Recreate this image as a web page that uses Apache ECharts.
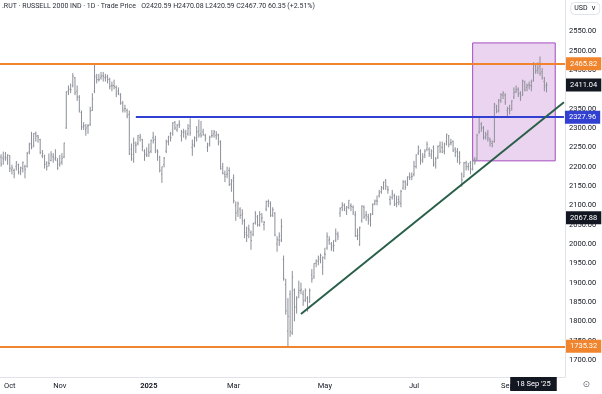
<!DOCTYPE html>
<html>
<head>
<meta charset="utf-8">
<script src="https://cdn.jsdelivr.net/npm/echarts@6/dist/echarts.min.js"></script>
<style>
html,body{margin:0;padding:0;background:#fff;}
#chart{width:602px;height:394px;}
</style>
</head>
<body>
<div id="chart"></div>
<script>
// Trading days shown on the category axis (last ones are empty future slots)
const tradingDays = [
  ['2024-09', [25,26,27,30]],
  ['2024-10', [1,2,3,4,7,8,9,10,11,14,15,16,17,18,21,22,23,24,25,28,29,30,31]],
  ['2024-11', [1,4,5,6,7,8,11,12,13,14,15,18,19,20,21,22,25,26,27,29]],
  ['2024-12', [2,3,4,5,6,9,10,11,12,13,16,17,18,19,20,23,24,26,27,30,31]],
  ['2025-01', [2,3,6,7,8,10,13,14,15,16,17,21,22,23,24,27,28,29,30,31]],
  ['2025-02', [3,4,5,6,7,10,11,12,13,14,18,19,20,21,24,25,26,27,28]],
  ['2025-03', [3,4,5,6,7,10,11,12,13,14,17,18,19,20,21,24,25,26,27,28,31]],
  ['2025-04', [1,2,3,4,7,8,9,10,11,14,15,16,17,21,22,23,24,25,28,29,30]],
  ['2025-05', [1,2,5,6,7,8,9,12,13,14,15,16,19,20,21,22,23,27,28,29,30]],
  ['2025-06', [2,3,4,5,6,9,10,11,12,13,16,17,18,20,23,24,25,26,27,30]],
  ['2025-07', [1,2,3,7,8,9,10,11,14,15,16,17,18,21,22,23,24,25,28,29,30,31]],
  ['2025-08', [1,4,5,6,7,8,11,12,13,14,15,18,19,20,21,22,25,26,27,28,29]],
  ['2025-09', [2,3,4,5,8,9,10,11,12,15,16,17,18,19,22,23,24,25,26,29,30]],
  ['2025-10', [1,2,3,6,7,8]]
];

// Daily OHLC (Sep 25 2024 .. Sep 26 2025)
const open = [
  2225,2222,2225,2220,
  2228,2192,2190,2200,2205,2188,2195,2200,2200,2238,2260,2255,2285,2280,2270,2228,2228,2210,2210,2216,2226,2220,2215,
  2205,2212,2225,2300,2395,2400,2410,2430,2395,2380,2340,2303,2295,2305,2310,2345,2395,2430,2425,2430,
  2435,2430,2432,2425,2410,2410,2405,2395,2385,2365,2350,2345,2335,2245,2220,2255,2260,2275,2270,2240,2235,
  2240,2240,2275,2270,2240,2225,2180,2205,2240,2265,2285,2285,2315,2295,2310,2280,2290,2285,2285,2305,
  2250,2255,2272,2292,2285,2290,2280,2250,2260,2280,2285,2280,2282,2265,2200,2180,2180,2190,2155,
  2170,2100,2085,2090,2075,2060,2030,2040,2030,2025,2055,2070,2050,2065,2050,2090,2110,2105,2075,2080,2000,
  2010,2010,1960,1895,1775,1870,1770,1880,1835,1875,1880,1870,1855,1860,1850,1920,1915,1950,1955,1960,1940,
  1975,1990,2010,2000,1995,2010,2025,2080,2095,2100,2085,2095,2100,2095,2075,2020,2000,2060,2095,2075,2070,
  2060,2078,2105,2112,2125,2135,2145,2165,2140,2115,2120,2125,2105,2115,2105,2145,2160,2155,2175,2175,
  2180,2200,2235,2240,2218,2230,2245,2245,2230,2250,2210,2225,2255,2250,2240,2265,2280,2262,2265,2245,2240,2235,
  2180,2175,2210,2200,2210,2195,2218,2220,2290,2310,2300,2275,2285,2270,2260,2265,2355,2345,2370,2385,2385,
  2345,2350,2350,2380,2395,2400,2390,2385,2420,2405,2412,2410,2420.59,2460,2450,2460,2445,2420,2410
];
const high = [
  2232,2239,2238,2232,
  2230,2205,2195,2214,2208,2200,2213,2205,2238,2262,2290,2287,2291,2282,2272,2243,2231,2214,2234,2240,2235,2245,2222,
  2230,2235,2262,2395,2410,2415,2442,2432,2410,2385,2345,2315,2310,2310,2355,2390,2466,2440,2440,2445,
  2445,2440,2438,2430,2420,2425,2410,2405,2390,2370,2360,2350,2345,2260,2275,2265,2282,2285,2272,2245,2250,
  2260,2270,2290,2280,2245,2228,2200,2225,2270,2280,2290,2315,2318,2310,2320,2295,2298,2295,2310,2325,
  2270,2278,2305,2322,2318,2298,2285,2262,2280,2295,2295,2292,2285,2268,2210,2190,2200,2198,2168,
  2180,2110,2110,2095,2090,2065,2045,2050,2035,2055,2085,2075,2085,2080,2060,2112,2115,2110,2095,2082,2020,
  2030,2065,1970,1910,1860,1880,1930,1885,1865,1905,1900,1880,1885,1865,1885,1935,1950,1960,1970,1975,1968,
  1990,2030,2020,2005,2010,2040,2032,2095,2108,2105,2098,2113,2105,2100,2085,2040,2045,2100,2100,2085,2078,
  2080,2105,2115,2125,2140,2150,2162,2168,2150,2125,2140,2130,2125,2125,2140,2165,2165,2175,2185,2185,
  2215,2232,2255,2245,2235,2245,2265,2250,2245,2255,2225,2255,2265,2265,2262,2285,2282,2272,2268,2250,2248,2240,
  2185,2212,2215,2210,2215,2220,2225,2285,2330,2315,2305,2290,2295,2275,2268,2365,2360,2375,2390,2395,2390,
  2355,2360,2372,2405,2410,2405,2395,2425,2422,2415,2420,2425,2470.08,2465,2470,2485,2455,2432,2418
];
const low = [
  2200,2205,2215,2205,
  2186,2180,2170,2190,2180,2178,2185,2170,2198,2232,2245,2250,2265,2262,2232,2222,2195,2190,2200,2214,2210,2215,2192,
  2200,2205,2222,2298,2385,2390,2405,2385,2370,2340,2295,2295,2280,2285,2305,2344,2390,2415,2420,2425,
  2420,2420,2415,2400,2395,2400,2380,2385,2360,2340,2340,2325,2230,2215,2210,2235,2255,2265,2240,2215,2225,
  2225,2235,2260,2235,2215,2185,2158,2198,2235,2255,2265,2280,2295,2290,2300,2265,2275,2270,2280,2280,
  2228,2250,2265,2275,2275,2280,2265,2238,2252,2275,2275,2270,2255,2192,2180,2160,2170,2150,2135,
  2105,2060,2070,2065,2050,2015,2005,2015,1985,2020,2050,2045,2045,2055,2035,2085,2095,2070,2070,2020,1980,
  1995,2005,1905,1817,1736,1760,1765,1800,1820,1860,1870,1840,1850,1825,1848,1900,1910,1940,1945,1950,1920,
  1960,1985,1998,1982,1980,2005,2010,2070,2085,2085,2075,2090,2085,2075,2018,2010,1995,2055,2065,2060,2050,
  2045,2075,2100,2100,2120,2130,2140,2140,2130,2100,2115,2098,2095,2100,2095,2140,2140,2150,2165,2165,
  2175,2195,2230,2205,2210,2222,2240,2225,2220,2200,2195,2220,2235,2235,2232,2255,2250,2255,2238,2225,2210,2205,
  2148,2172,2190,2190,2180,2190,2205,2215,2285,2290,2270,2270,2265,2252,2250,2262,2338,2340,2365,2375,2360,
  2330,2335,2345,2375,2390,2380,2370,2383,2395,2395,2400,2395,2420.59,2440,2440,2435,2425,2395,2392
];
const close = [
  2207,2219,2224,2230,
  2196,2197,2181,2212,2184,2197,2211,2193,2234,2257,2250,2286,2279,2276,2237,2234,2206,2200,2208,2231,2224,2223,2196,
  2209,2222,2261,2393,2400,2399,2434,2391,2380,2346,2303,2306,2300,2306,2344,2375,2434,2425,2425,2434,
  2434,2432,2426,2408,2409,2407,2389,2389,2364,2346,2350,2331,2233,2231,2261,2256,2280,2279,2253,2231,2230,
  2236,2268,2267,2243,2238,2190,2200,2222,2264,2277,2275,2313,2300,2307,2307,2288,2290,2277,2299,2287,
  2258,2275,2290,2282,2280,2283,2273,2256,2276,2280,2290,2285,2262,2195,2183,2175,2181,2154,2163,
  2112,2080,2104,2074,2080,2025,2022,2036,2009,2053,2078,2049,2076,2068,2056,2110,2110,2073,2089,2023,2011,
  2020,2045,1910,1827,1813,1773,1914,1838,1860,1880,1883,1853,1880,1838,1880,1910,1950,1957,1964,1970,1965,
  1973,2020,2012,1990,1996,2026,2020,2092,2101,2091,2095,2113,2097,2081,2022,2022,2042,2098,2070,2075,2066,
  2075,2102,2111,2110,2132,2145,2160,2150,2140,2106,2131,2102,2107,2109,2136,2161,2147,2173,2172,2175,
  2201,2230,2250,2215,2225,2240,2258,2234,2240,2205,2220,2252,2240,2237,2259,2284,2258,2262,2241,2237,2226,2211,
  2166,2210,2200,2200,2193,2218,2212,2281,2328,2300,2277,2282,2275,2265,2254,2361,2343,2372,2386,2390,2366,
  2350,2345,2370,2392,2400,2387,2380,2422,2398,2410,2409,2407.35,2467.70,2448,2455,2441,2430,2406,2411.04
];

// Price-axis tick labels
const yTicks = [1700,1750,1800,1850,1900,1950,2000,2050,2100,2150,2200,2250,2300,2350,2400,2450,2500,2550];
// Time-axis labels
const xTickLabels = {'2024-10-01':'Oct','2024-11-01':'Nov','2025-01-02':'2025','2025-03-03':'Mar','2025-05-01':'May','2025-07-01':'Jul','2025-09-02':'Sep'};

// Drawing levels (x given as trading-day index on the category axis)
const resistanceLevel = 2465.82;
const supportLevel = 1735.32;
const pivotLevel = 2327.96;
const pivotStartIndex = 62;
const markerLevel = 2067.88;
const trendStart = [138, 1819];
const trendEnd = [259, 2366.5];
const boxX = [217.2, 255.4];
const boxY = [2215, 2520];
const crosshairDate = '2025-09-18';

const dates = [];
tradingDays.forEach(([m, ds]) => ds.forEach(d => dates.push(m + '-' + String(d).padStart(2, '0'))));

const ohlc = close.map((c, i) => [i, open[i], high[i], low[i], c]);
const FONT = 'Roboto, "Liberation Sans", sans-serif';
const TXT = '#131722';
const ORANGE = '#f0852d';
const BLUE = '#3140d0';
const GREEN = '#2a6049';
const BAR = '#8c8f98';
const CLEAR = 'rgba(0,0,0,0)';
const MONTHS = ['Jan','Feb','Mar','Apr','May','Jun','Jul','Aug','Sep','Oct','Nov','Dec'];

const ci = dates.indexOf(crosshairDate);
const prevC = close[ci - 1];
const chg = close[ci] - prevC;
const titleText = '.RUT \u00b7 RUSSELL 2000 IND \u00b7 1D \u00b7 Trade Price   O' + open[ci].toFixed(2) +
  ' H' + high[ci].toFixed(2) + ' L' + low[ci].toFixed(2) + ' C' + close[ci].toFixed(2) +
  ' ' + chg.toFixed(2) + ' (+' + (chg / prevC * 100).toFixed(2) + '%)';

function priceLabel(bg, level) {
  return {
    show: true, position: 'end', distance: 1,
    formatter: () => level.toFixed(2),
    backgroundColor: bg, color: '#fff', padding: [2, 4],
    fontSize: 7.5, lineHeight: 9, fontFamily: FONT
  };
}

const lastClose = close[close.length - 1];

const chart = echarts.init(document.getElementById('chart'), null, {renderer: 'canvas'});
chart.setOption({
  animation: false,
  backgroundColor: '#ffffff',
  title: [
    {text: titleText, left: 2, top: 3, padding: 0,
     textStyle: {fontSize: 7, fontWeight: 'normal', color: '#2a2e39', fontFamily: FONT}},
    {text: 'USD  \u2228', right: 2, top: 2, padding: [3, 4], borderColor: '#e0e3eb', borderWidth: 1, borderRadius: 4,
     textStyle: {fontSize: 7, fontWeight: 'normal', color: TXT, fontFamily: FONT}},
    {text: '\u2299', right: 12, top: 380, padding: 0,
     textStyle: {fontSize: 9, fontWeight: 'normal', color: '#6a6d78', fontFamily: 'DejaVu Sans'}}
  ],
  grid: {left: 0, right: 37, top: 0, bottom: 17, containLabel: false, outerBoundsMode: 'none'},
  xAxis: {
    type: 'category',
    data: dates,
    boundaryGap: true,
    axisLine: {show: true, lineStyle: {color: '#e0e3eb', width: 1}},
    axisTick: {show: false},
    splitLine: {show: false},
    axisLabel: {
      interval: (i, v) => Object.prototype.hasOwnProperty.call(xTickLabels, v),
      formatter: v => v === '2025-01-02' ? '{b|2025}' : (xTickLabels[v] || ''),
      color: TXT, fontSize: 7.5, fontFamily: FONT, margin: 5,
      rich: {b: {fontWeight: 'bold', fontSize: 7.5, color: TXT, fontFamily: FONT}}
    },
    axisPointer: {
      show: true, type: 'line', value: ci, status: 'show', snap: true, triggerTooltip: false,
      lineStyle: {color: CLEAR, width: 0},
      label: {
        show: true, margin: 0,
        formatter: p => { const s = dates[Math.round(p.value)] || p.value; const [y, m, d] = String(s).split('-');
          return parseInt(d, 10) + ' ' + MONTHS[parseInt(m, 10) - 1] + " '" + y.slice(2); },
        backgroundColor: TXT, color: '#fff', padding: [3, 6], fontSize: 7.5, fontFamily: FONT, borderRadius: 0
      }
    }
  },
  yAxis: {
    type: 'value',
    position: 'right',
    min: 1656,
    max: 2631,
    scale: true,
    axisLine: {show: true, lineStyle: {color: '#e0e3eb', width: 1}},
    axisTick: {show: false, customValues: yTicks},
    splitLine: {show: false},
    axisLabel: {
      customValues: yTicks,
      formatter: v => Number(v).toFixed(2),
      color: TXT, fontSize: 7.5, fontFamily: FONT, margin: 4
    }
  },
  series: [{
    type: 'custom',
    name: 'RUT',
    data: ohlc,
    encode: {x: 0, y: [1, 2, 3, 4]},
    clip: false,
    z: 3,
    renderItem: function (params, api) {
      const idx = api.value(0);
      const o = api.coord([idx, api.value(1)]);
      const h = api.coord([idx, api.value(2)]);
      const l = api.coord([idx, api.value(3)]);
      const c = api.coord([idx, api.value(4)]);
      const x = o[0];
      const w = api.size([1, 0])[0] * 0.4;
      const st = {stroke: BAR, lineWidth: 1};
      return {type: 'group', children: [
        {type: 'line', shape: {x1: x, y1: h[1], x2: x, y2: l[1]}, style: st},
        {type: 'line', shape: {x1: x - w, y1: o[1], x2: x, y2: o[1]}, style: st},
        {type: 'line', shape: {x1: x, y1: c[1], x2: x + w, y2: c[1]}, style: st}
      ]};
    },
    markArea: {
      silent: true,
      itemStyle: {color: 'rgba(156,39,176,0.2)', borderColor: '#a24cc0', borderWidth: 1},
      data: [[{xAxis: boxX[0], yAxis: boxY[1]}, {xAxis: boxX[1], yAxis: boxY[0]}]]
    },
    markLine: {
      silent: true,
      symbol: ['none', 'none'],
      precision: 2,
      data: [
        {yAxis: resistanceLevel, lineStyle: {color: ORANGE, width: 2, type: 'solid'}, label: priceLabel(ORANGE, resistanceLevel)},
        {yAxis: supportLevel, lineStyle: {color: ORANGE, width: 2, type: 'solid'}, label: priceLabel(ORANGE, supportLevel)},
        [{coord: [pivotStartIndex, pivotLevel], lineStyle: {color: BLUE, width: 2, type: 'solid'}, label: priceLabel(BLUE, pivotLevel)},
         {coord: [trendEnd[0], pivotLevel]}],
        {yAxis: lastClose, lineStyle: {color: CLEAR, width: 1}, label: priceLabel(TXT, lastClose)},
        {yAxis: markerLevel, lineStyle: {color: CLEAR, width: 1}, label: priceLabel(TXT, markerLevel)},
        [{coord: trendStart, lineStyle: {color: GREEN, width: 2, type: 'solid'}, label: {show: false}},
         {coord: trendEnd}]
      ]
    }
  }]
});
</script>
</body>
</html>
